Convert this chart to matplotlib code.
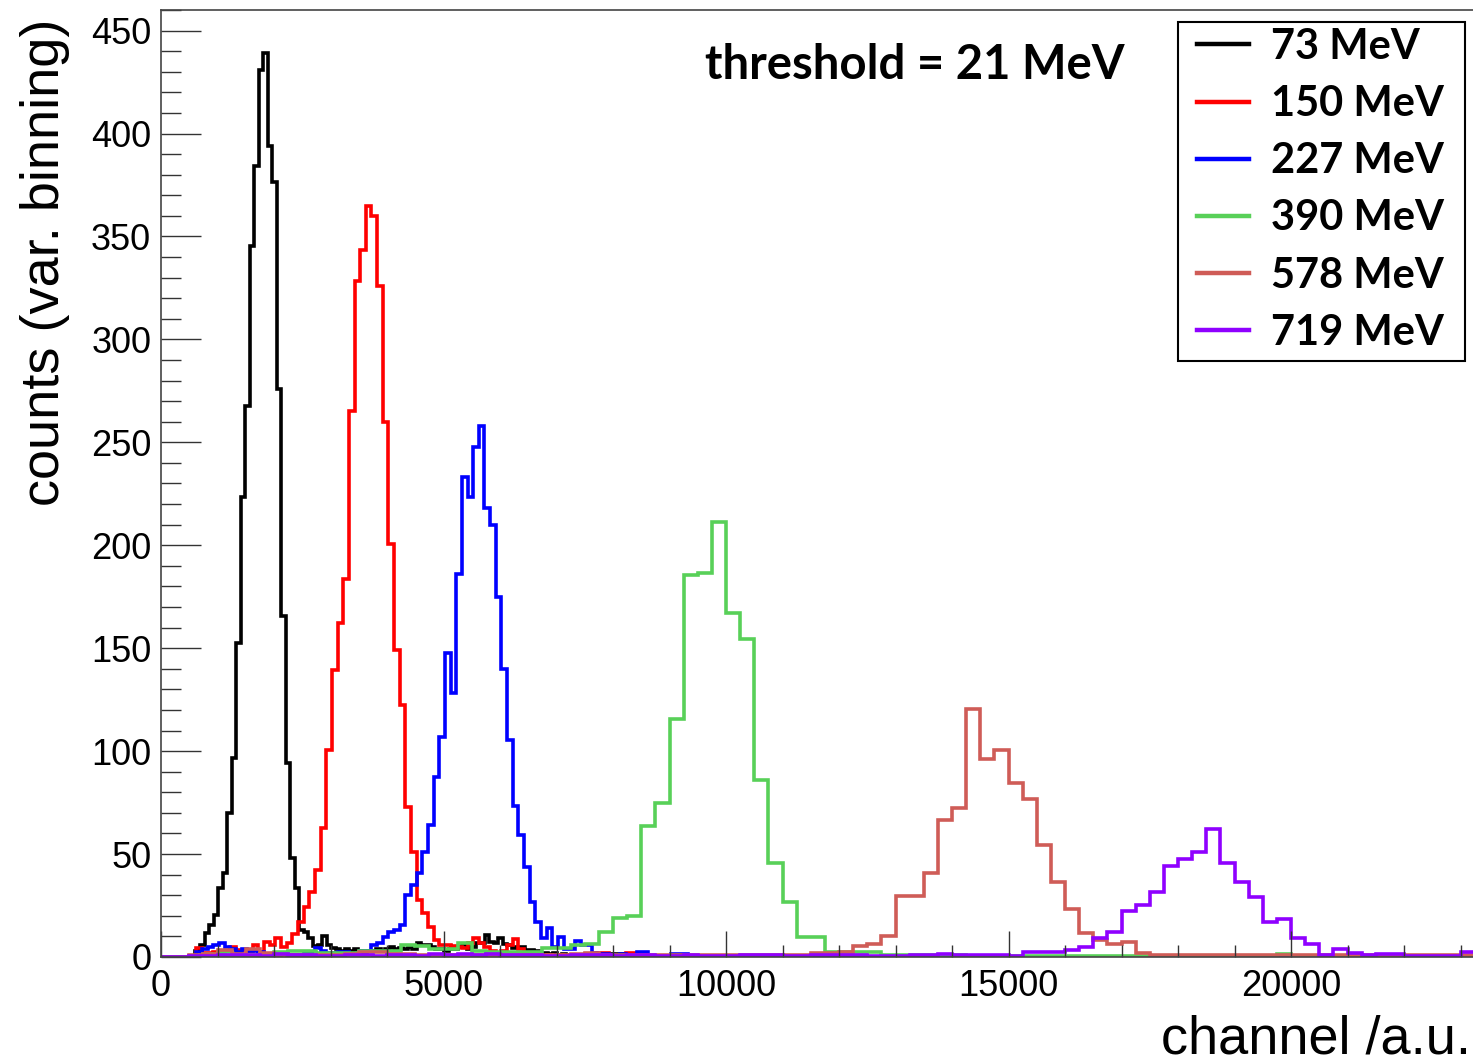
import numpy as np
import matplotlib
matplotlib.use('Agg')
from matplotlib import pyplot as plt
from matplotlib.lines import Line2D
from matplotlib.patches import Rectangle
from matplotlib.ticker import MultipleLocator

##################################################
# Data (channels / counts)

labels = ['73 MeV', '150 MeV', '227 MeV', '390 MeV', '578 MeV', '719 MeV']
colors = ['#000000', '#ff0000', '#0000ff', '#58d058', '#cf5c57', '#8f00ff']

# lower edge of the first listed bin and the bin width of each histogram
bin_start = [610, 625, 625, 0, 0, 0]
bin_width = [80, 100, 100, 250, 250, 250]

counts_73 = [3, 5.8, 11.7, 15.5, 20.4, 33.5, 40.8, 70, 96.8, 152.6, 223.5, 267.7,
             345.5, 384, 430.7, 439, 394, 376.4, 276, 165.4, 94, 48, 33.5, 13,
             12, 9, 5.5, 6, 10, 6, 4.5, 4, 3, 4, 3, 4, 3, 2, 3, 3, 4, 3, 4, 5,
             4, 4.4, 4, 5, 4, 7, 6, 6, 5, 4, 4, 3, 4, 4, 5, 6, 4, 5, 7, 7, 10.8,
             7.5, 7, 9, 6.5, 6, 4.4, 5, 5, 3.6, 3.6, 3, 2, 2, 1.5, 2, 1, 1.5, 1,
             1, 0.5, 1, 0.5, 0.5, 1, 0.5, 0.5, 0.5, 1.5, 1.5, 1.5, 1, 0.5]

counts_150 = [4.4, 2, 2, 2.5, 2.5, 3, 5, 3.5, 3.5, 3, 6, 2.5, 7.4, 6, 9, 5, 6.8,
              11, 17, 24.4, 31.7, 42.3, 62.7, 100.6, 139.5, 162, 183.7, 265,
              328.6, 343.5, 365, 359.7, 325.7, 260, 200.7, 149, 122.4, 73, 51,
              27.7, 21.5, 14.7, 8.3, 5.8, 5.8, 5.5, 5, 4.5, 7, 9.2, 7, 5, 3, 2,
              3, 6, 8.7, 4, 2, 1, 1, 0.5, 1, 0.5, 1, 0.5, 1, 0.5, 1, 0.5, 1, 2,
              2, 1, 0.5, 1, 2, 2, 1]

counts_227 = [2.6, 4, 5, 6, 7, 5, 4, 2.5, 4, 3, 3, 2.5, 1.5, 1.5, 1, 1.5, 1, 1,
              1, 2, 2, 4.4, 3, 2, 2, 2.5, 2.5, 1.5, 1.5, 3, 3, 5.8, 7, 9.9,
              12.3, 13, 15.5, 30, 35, 40.8, 51, 64, 87.6, 107, 147.6, 128, 186,
              233.4, 223.3, 247.7, 257.7, 218, 210, 175, 139.8, 105.4, 73.4,
              59.3, 43.9, 26.9, 17.2, 9, 14, 5.1, 9.5, 4, 4, 7.6, 5.8, 5.8, 2,
              1.5, 1.5, 1, 1, 1.5, 1, 0.5, 2.6, 2.6, 0.5, 0.5, 0.5, 0.5, 1.5,
              1.5, 1.5, 0.5]

counts_390 = [0, 0, 0.5, 1.5, 2.6, 1, 1, 1.5, 2.6, 3, 3, 2, 2, 2, 3, 3, 3, 5.8,
              5.5, 4, 4, 6.8, 3, 2.5, 2.5, 2.5, 2.5, 4.4, 4.4, 5.8, 6.1, 12.3,
              18.8, 19.9, 63.7, 74.7, 115.5, 185.6, 186.7, 211.5, 167, 154.4,
              86, 45.5, 26.9, 9.5, 9.5, 2.6, 2.6, 2.6, 2.6, 1, 1, 1, 1, 1, 1,
              0.5, 0.5, 0.5, 0.5, 0.5, 0.5, 0.5, 0.5, 0.5, 0.5, 0.5, 0.5, 0.5,
              0.5, 0.5, 0.5, 0.5, 0.5, 0.5, 0.5, 0.5, 0.5, 1.5]

counts_578 = [0, 0, 1, 1.5, 3.5, 1.5, 4, 2, 1, 1, 1, 1, 1, 1.5, 2.5, 2.5, 1.5,
              1.5, 1, 1, 1, 1, 1, 1, 1, 1, 1, 1, 1, 1.5, 2, 1, 1, 1, 1, 1, 1,
              1, 1, 1, 1, 1, 1, 1, 1, 1, 2, 2, 2.6, 5.5, 6.3, 10.4, 29.6, 29.6,
              40.7, 66.6, 72.2, 120.3, 96.2, 100.6, 84.4, 76.6, 54.4, 36.3,
              23.3, 11.8, 8.3, 6.1, 7.4, 1.8, 1, 1, 1, 1, 1, 1, 1, 1, 1, 1, 1,
              1, 1, 1, 1, 1, 1, 1, 1, 1, 1, 1, 1]

counts_719 = [0, 0, 0.5, 0.5, 1, 1, 1, 0.5, 1.5, 1, 1, 0.5, 0.5, 1, 1, 0.5, 1,
              1, 0.5, 1.5, 1, 1.5, 1, 1.5, 1, 1, 1, 0.5, 0.5, 1, 1, 1, 0.5, 1,
              1, 0.5, 0.5, 1, 0.5, 0.5, 0.5, 1, 1, 1, 0.5, 0.5, 1, 1, 1, 1, 0.5,
              0.5, 0.5, 1, 1, 1.5, 1, 1, 1, 1, 0.5, 2.6, 2.6, 2.6, 3.4, 5, 9.4,
              12.3, 22.5, 25.3, 31.7, 44.2, 47.5, 51.2, 62.2, 45.8, 36.6, 29.3,
              17.2, 18.5, 9.4, 6.3, 1, 3.7, 2, 1, 1.3, 1.3, 0.5, 0.5, 0.5, 0.5,
              2.3]

all_counts = [counts_73, counts_150, counts_227, counts_390, counts_578, counts_719]

X_MAX = 23220
Y_MAX = 460

##################################################
# Plot

plt.rcParams['font.family'] = ['Liberation Sans', 'DejaVu Sans']

W, H = 1473, 1062
fig = plt.figure(figsize=(W / 100, H / 100), dpi=100)
ax = fig.add_axes([161 / W, 1 - 957 / H, 1 - 161 / W, (957 - 10) / H])

for counts, start, width, col in zip(all_counts, bin_start, bin_width, colors):
	edges = start + width * np.arange(len(counts) + 1)
	values = np.asarray(counts, dtype=float)
	# empty bins down to 0 and up to the end of the axis
	if edges[0] > 0:
		edges = np.concatenate([[0], edges])
		values = np.concatenate([[0], values])
	if edges[-1] < X_MAX:
		edges = np.concatenate([edges, [X_MAX + 500]])
		values = np.concatenate([values, [0]])
	ax.stairs(values, edges, baseline=None, color=col, linewidth=2.6)

ax.set_xlim(0, X_MAX)
ax.set_ylim(0, Y_MAX)

ax.xaxis.set_major_locator(MultipleLocator(5000))
ax.xaxis.set_minor_locator(MultipleLocator(1000))
ax.yaxis.set_major_locator(MultipleLocator(50))
ax.yaxis.set_minor_locator(MultipleLocator(10))
ax.tick_params(axis='both', which='both', direction='in', colors='#333333', width=1)
ax.tick_params(axis='y', which='major', length=29, pad=7, labelsize=26, labelcolor='black')
ax.tick_params(axis='y', which='minor', length=14.5)
ax.tick_params(axis='x', which='major', length=19, pad=9, labelsize=26, labelcolor='black')
ax.tick_params(axis='x', which='minor', length=9)

ax.spines['right'].set_visible(False)
for s in ['left', 'top', 'bottom']:
	ax.spines[s].set_color('#444444')
	ax.spines[s].set_linewidth(1.2)

fig.text(45 / W, 1 - 262 / H, 'counts (var. binning)', rotation=90,
         ha='center', va='center', fontsize=39)
fig.text(1471 / W, 1 - 1053 / H, 'channel /a.u.', ha='right', va='baseline', fontsize=39)

fig.text(915 / W, 1 - 65 / H, 'threshold = 21 MeV', ha='center', va='center',
         fontsize=34, fontweight='bold', family=['Lato', 'DejaVu Sans'])

# legend: entries without frame, box drawn separately
handles = [Line2D([], [], color=c, linewidth=3.2) for c in colors]
leg = ax.legend(handles, labels, loc='upper left',
                bbox_to_anchor=(1197 / W, 1 - 28 / H), bbox_transform=fig.transFigure,
                borderaxespad=0, frameon=False, handlelength=1.25, handletextpad=0.53,
                borderpad=0, labelspacing=0.46,
                prop={'family': ['Lato', 'DejaVu Sans'], 'weight': 'bold', 'size': 30})
leg.set_zorder(6)
ax.add_patch(Rectangle((1178 / W, 1 - 361 / H), (1465 - 1178) / W, (361 - 22) / H,
                       transform=fig.transFigure, clip_on=False, facecolor='white',
                       edgecolor='black', linewidth=1.5, zorder=5))

fig.savefig('out.png', dpi=100)
